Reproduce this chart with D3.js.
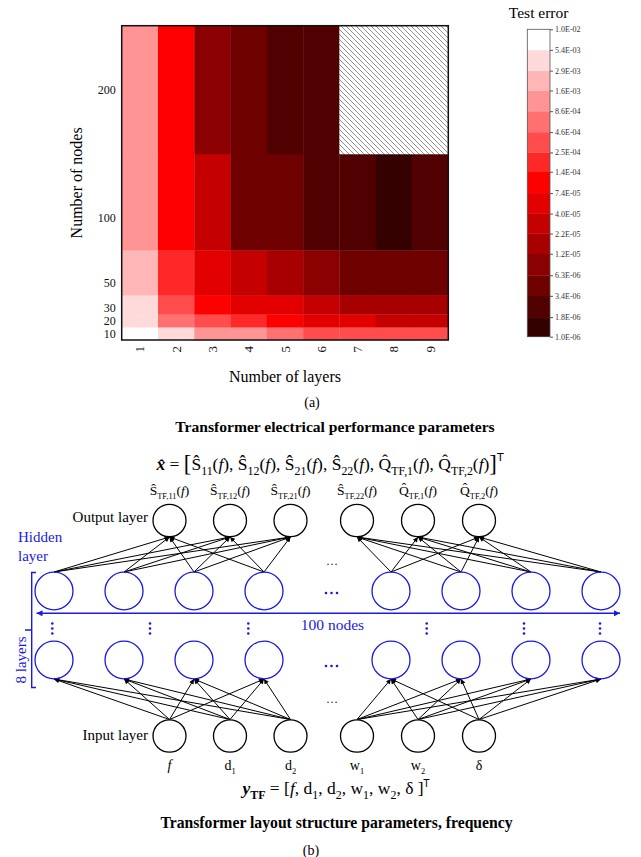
<!DOCTYPE html>
<html>
<head>
<meta charset="utf-8">
<script src="https://cdn.jsdelivr.net/npm/d3@7/dist/d3.min.js"></script>
<style>
  html, body { margin: 0; padding: 0; background: #fff; }
  svg { display: block; }
  text { font-family: "Liberation Serif", "DejaVu Serif", serif; }
</style>
</head>
<body>
<svg id="chart" width="641" height="857"></svg>
<script>
// ---------------- DATA ----------------
const layers = [1, 2, 3, 4, 5, 6, 7, 8, 9];
const nodes = [10, 20, 30, 50, 100, 200];
// test error per number of nodes (row) across layers 1..9 (null = not computed, hatched)
const err10  = [7.0e-3, 4.0e-3, 1.2e-3, 1.2e-3, 6.3e-4, 3.4e-4, 3.4e-4, 3.4e-4, 3.4e-4];
const err20  = [4.0e-3, 6.3e-4, 3.4e-4, 1.9e-4, 1.0e-4, 5.5e-5, 5.5e-5, 3.0e-5, 3.0e-5];
const err30  = [4.0e-3, 3.4e-4, 1.0e-4, 5.5e-5, 5.5e-5, 3.0e-5, 1.6e-5, 1.6e-5, 1.6e-5];
const err50  = [2.2e-3, 1.9e-4, 5.5e-5, 3.0e-5, 1.6e-5, 8.8e-6, 4.7e-6, 4.7e-6, 4.7e-6];
const err100 = [1.2e-3, 1.0e-4, 3.0e-5, 4.7e-6, 4.7e-6, 2.5e-6, 2.5e-6, 1.3e-6, 2.5e-6];
const err200 = [1.2e-3, 1.0e-4, 8.8e-6, 4.7e-6, 2.5e-6, 2.5e-6, null, null, null];
const errRows = [err10, err20, err30, err50, err100, err200];
// colour-bar level boundaries (tick labels)
const levels = [1.0e-6, 1.8e-6, 3.4e-6, 6.3e-6, 1.2e-5, 2.2e-5, 4.0e-5, 7.4e-5,
                1.4e-4, 2.5e-4, 4.6e-4, 8.6e-4, 1.6e-3, 2.9e-3, 5.4e-3, 1.0e-2];
const levelColors = ["#340000", "#510000", "#6e0000", "#8b0000", "#a80000", "#c50000", "#e20000",
                     "#ff0000", "#ff2828", "#ff4d4d", "#ff7070", "#ff9494", "#ffb6b6", "#ffdada", "#ffffff"];
// network diagram
const outSym  = ["Ŝ", "Ŝ", "Ŝ", "Ŝ", "Q̂", "Q̂"];
const outSub  = ["TF,11", "TF,12", "TF,21", "TF,22", "TF,1", "TF,2"];
const inSym   = ["f", "d", "d", "w", "w", "δ"];
const inSub   = ["", "1", "2", "1", "2", ""];
const hiddenCount = 8;

// ---------------- HELPERS ----------------
const svg = d3.select("#chart");
const BLUE = "#1a1ae6";

function rich(textSel, segs, size) {
  let off = 0;
  segs.forEach(s => {
    let target = 0, fs = size;
    if (s.sub) { target = size * 0.28; fs = size * (s.scale || 0.68); }
    if (s.sup) { target = -size * (s.supOff || 0.5); fs = size * (s.scale || 0.62); }
    if (s.big) { target = size * 0.06; fs = size * s.big; }
    const ts = textSel.append("tspan").attr("dy", (target - off).toFixed(2)).attr("font-size", fs).text(s.t);
    off = target;
    if (s.it) ts.attr("font-style", "italic");
    if (s.b) ts.attr("font-weight", "bold");
    if (s.ff) ts.attr("font-family", s.ff);
  });
  if (off !== 0) textSel.append("tspan").attr("dy", -off).text("");
}

// ---------------- (a) HEATMAP ----------------
const hm = { left: 121.7, right: 448.3, top: 25.7, bottom: 340 };
const x = d3.scaleBand().domain(layers).range([hm.left, hm.right]).padding(0);
const yEdgesLow = nodes[0] - (nodes[1] - nodes[0]) / 2;
const yEdgesHigh = nodes[nodes.length - 1] + (nodes[nodes.length - 1] - nodes[nodes.length - 2]) / 2;
const y = d3.scaleLinear().domain([yEdgesLow, yEdgesHigh]).range([hm.bottom, hm.top]);
const color = d3.scaleThreshold().domain(levels.slice(1, -1)).range(levelColors);

// row edges = midpoints between node counts
const edges = [yEdgesLow];
for (let i = 0; i < nodes.length - 1; i++) edges.push((nodes[i] + nodes[i + 1]) / 2);
edges.push(yEdgesHigh);

const defs = svg.append("defs");
const pat = defs.append("pattern").attr("id", "hatch").attr("patternUnits", "userSpaceOnUse")
  .attr("width", 5).attr("height", 5);
pat.append("rect").attr("width", 5).attr("height", 5).attr("fill", "#fff");
pat.append("path").attr("d", "M-1,-1 L6,6 M-1,4 L1,6 M4,-1 L6,1")
  .attr("stroke", "#444").attr("stroke-width", 0.6);

const cells = [];
errRows.forEach((row, ri) => row.forEach((v, ci) => cells.push({ layer: layers[ci], lo: edges[ri], hi: edges[ri + 1], v })));

const gH = svg.append("g");
gH.selectAll("rect.cell").data(cells).join("rect")
  .attr("class", "cell")
  .attr("x", d => x(d.layer))
  .attr("width", x.bandwidth() + 0.3)
  .attr("y", d => y(d.hi))
  .attr("height", d => y(d.lo) - y(d.hi) + 0.3)
  .attr("fill", d => d.v == null ? "url(#hatch)" : color(d.v));

gH.append("rect").attr("x", hm.left).attr("y", hm.top)
  .attr("width", hm.right - hm.left).attr("height", hm.bottom - hm.top)
  .attr("fill", "none").attr("stroke", "#111").attr("stroke-width", 1.5);

// y axis labels
const yAxis = d3.axisLeft(y).tickValues(nodes).tickSize(0).tickPadding(6);
const gy = gH.append("g").attr("transform", `translate(${hm.left},0)`).call(yAxis);
gy.select(".domain").remove();
gy.selectAll("text").attr("font-size", 12).attr("font-family", "Liberation Serif").attr("fill", "#111");

// x axis labels (rotated)
const xAxis = d3.axisBottom(x).tickSize(0).tickPadding(5);
const gx = gH.append("g").attr("transform", `translate(0,${hm.bottom})`).call(xAxis);
gx.select(".domain").remove();
gx.selectAll("text").attr("font-size", 13).attr("font-family", "Liberation Serif").attr("fill", "#111")
  .attr("transform", "rotate(-90)").attr("text-anchor", "end").attr("x", -6).attr("y", 0).attr("dy", "0.35em");

gH.append("text").attr("x", (hm.left + hm.right) / 2).attr("y", 382).attr("text-anchor", "middle")
  .attr("font-size", 16).text("Number of layers");
gH.append("text").attr("transform", `translate(82,${(hm.top + hm.bottom) / 2}) rotate(-90)`)
  .attr("text-anchor", "middle").attr("font-size", 16).text("Number of nodes");
gH.append("text").attr("x", 312).attr("y", 407).attr("text-anchor", "middle").attr("font-size", 14).text("(a)");

// colour bar
const cb = { left: 527.3, right: 550, top: 29.3, bottom: 336.7 };
const cy = d3.scaleLog().domain([levels[0], levels[levels.length - 1]]).range([cb.bottom, cb.top]);
const gC = svg.append("g");
const bands = d3.range(levels.length - 1).map(i => ({ lo: levels[i], hi: levels[i + 1], c: levelColors[i] }));
gC.selectAll("rect.band").data(bands).join("rect").attr("class", "band")
  .attr("x", cb.left).attr("width", cb.right - cb.left)
  .attr("y", d => cy(d.hi)).attr("height", d => cy(d.lo) - cy(d.hi) + 0.3)
  .attr("fill", d => d.c);
gC.append("rect").attr("x", cb.left).attr("y", cb.top).attr("width", cb.right - cb.left)
  .attr("height", cb.bottom - cb.top).attr("fill", "none").attr("stroke", "#555").attr("stroke-width", 0.8);
const fmtE = v => { const [m, e] = v.toExponential(1).split("e"); const n = Math.abs(+e); return m + "E" + (+e < 0 ? "-" : "+") + (n < 10 ? "0" : "") + n; };
const cAxis = d3.axisRight(cy).tickValues(levels).tickFormat(fmtE).tickSize(3).tickPadding(2);
const gca = gC.append("g").attr("transform", `translate(${cb.right},0)`).call(cAxis);
gca.select(".domain").remove();
gca.selectAll("line").attr("stroke", "#555");
gca.selectAll("text").attr("font-size", 8).attr("font-family", "Liberation Serif").attr("fill", "#333");
gC.append("text").attr("x", (cb.left + cb.right) / 2).attr("y", 18).attr("text-anchor", "middle")
  .attr("font-size", 15.5).text("Test error");

// ---------------- (b) NETWORK DIAGRAM ----------------
const gN = svg.append("g");
defs.append("marker").attr("id", "arr").attr("viewBox", "0 0 10 10").attr("refX", 10).attr("refY", 5)
  .attr("markerWidth", 7).attr("markerHeight", 5).attr("markerUnits", "userSpaceOnUse").attr("orient", "auto")
  .append("path").attr("d", "M0,0 L10,5 L0,10 z").attr("fill", "#000");
defs.append("marker").attr("id", "barr").attr("viewBox", "0 0 10 10").attr("refX", 10).attr("refY", 5)
  .attr("markerWidth", 8).attr("markerHeight", 6).attr("markerUnits", "userSpaceOnUse").attr("orient", "auto-start-reverse")
  .append("path").attr("d", "M0,0 L10,5 L0,10 z").attr("fill", BLUE);

const ioX = i => i < 3 ? 169.5 + i * 60.5 : 357 + (i - 3) * 61;
const hX = i => i < 4 ? 54 + i * 70 : 391 + (i - 4) * 70;
const outY = 520.5, hTopY = 591, hBotY = 660, inY = 736;
const ioR = 16.5, hR = 19;

// titles / formulas
gN.append("text").attr("x", 335).attr("y", 432).attr("text-anchor", "middle")
  .attr("font-size", 15.6).attr("font-weight", "bold").text("Transformer electrical performance parameters");

const f1 = gN.append("text").attr("x", 330).attr("y", 470).attr("text-anchor", "middle")
  .attr("font-family", "DejaVu Serif").attr("font-size", 17.5);
rich(f1, [
  { t: "x\u0302", b: true, it: true }, { t: " = " }, { t: "[", big: 1.3 },
  { t: "Ŝ" }, { t: "11", sub: true }, { t: "(" }, { t: "f", it: true }, { t: "), " },
  { t: "Ŝ" }, { t: "12", sub: true }, { t: "(" }, { t: "f", it: true }, { t: "), " },
  { t: "Ŝ" }, { t: "21", sub: true }, { t: "(" }, { t: "f", it: true }, { t: "), " },
  { t: "Ŝ" }, { t: "22", sub: true }, { t: "(" }, { t: "f", it: true }, { t: "), " },
  { t: "Q̂" }, { t: "TF,1", sub: true }, { t: "(" }, { t: "f", it: true }, { t: "), " },
  { t: "Q̂" }, { t: "TF,2", sub: true }, { t: "(" }, { t: "f", it: true }, { t: ")" },
  { t: "]", big: 1.3 }, { t: "T", sup: true, ff: "DejaVu Sans" }
], 17.5);

// output labels
outSym.forEach((s, i) => {
  const t = gN.append("text").attr("x", ioX(i)).attr("y", 495).attr("text-anchor", "middle")
    .attr("font-family", "DejaVu Serif").attr("font-size", 13.5);
  rich(t, [{ t: s }, { t: outSub[i], sub: true, scale: 0.62 }, { t: "(" }, { t: "f", it: true }, { t: ")" }], 13.5);
});

// edges: hidden(top row) -> outputs, inputs -> hidden(bottom row)
const edgesOut = [], edgesIn = [];
for (let h = 0; h < hiddenCount; h++) for (let o = 0; o < 6; o++) {
  if ((h < 4) === (o < 3)) edgesOut.push({ h, o });
}
for (let n = 0; n < 6; n++) for (let h = 0; h < hiddenCount; h++) {
  if ((h < 4) === (n < 3)) edgesIn.push({ n, h });
}
gN.selectAll("line.eo").data(edgesOut).join("line").attr("class", "eo")
  .attr("x1", d => hX(d.h)).attr("y1", hTopY - hR)
  .attr("x2", d => ioX(d.o)).attr("y2", outY + ioR)
  .attr("stroke", "#000").attr("stroke-width", 1).attr("marker-end", "url(#arr)");
gN.selectAll("line.ei").data(edgesIn).join("line").attr("class", "ei")
  .attr("x1", d => ioX(d.n)).attr("y1", inY - ioR)
  .attr("x2", d => hX(d.h)).attr("y2", hBotY + hR)
  .attr("stroke", "#000").attr("stroke-width", 1).attr("marker-end", "url(#arr)");

// nodes
const io = d3.range(6);
gN.selectAll("ellipse.out").data(io).join("ellipse").attr("class", "out")
  .attr("cx", ioX).attr("cy", outY).attr("rx", ioR).attr("ry", ioR - 0.3)
  .attr("fill", "#fff").attr("stroke", "#000").attr("stroke-width", 1.3);
gN.selectAll("ellipse.inp").data(io).join("ellipse").attr("class", "inp")
  .attr("cx", ioX).attr("cy", inY).attr("rx", ioR).attr("ry", ioR - 0.3)
  .attr("fill", "#fff").attr("stroke", "#000").attr("stroke-width", 1.3);
const hid = d3.range(hiddenCount);
[hTopY, hBotY].forEach((yy, k) => {
  gN.selectAll("ellipse.h" + k).data(hid).join("ellipse").attr("class", "h" + k)
    .attr("cx", hX).attr("cy", yy).attr("rx", hR).attr("ry", hR - 0.2)
    .attr("fill", "none").attr("stroke", BLUE).attr("stroke-width", 1.3);
});

// layer labels
gN.append("text").attr("x", 148).attr("y", 522).attr("text-anchor", "end").attr("font-size", 15).text("Output layer");
gN.append("text").attr("x", 148).attr("y", 740).attr("text-anchor", "end").attr("font-size", 15).text("Input layer");
gN.append("text").attr("x", 18).attr("y", 542).attr("font-size", 15).attr("fill", BLUE).text("Hidden");
gN.append("text").attr("x", 18).attr("y", 561).attr("font-size", 15).attr("fill", BLUE).text("layer");
gN.append("text").attr("transform", "translate(26,660) rotate(-90)").attr("text-anchor", "middle")
  .attr("font-size", 15).attr("fill", BLUE).text("8 layers");

// bracket
gN.append("path").attr("d", "M36,572.5 H31.7 V687.5 H36 M31.7,630 H25")
  .attr("fill", "none").attr("stroke", BLUE).attr("stroke-width", 1.4);

// 100 nodes arrow
gN.append("line").attr("x1", 36.5).attr("x2", 620).attr("y1", 613.3).attr("y2", 613.3)
  .attr("stroke", BLUE).attr("stroke-width", 1.5)
  .attr("marker-start", "url(#barr)").attr("marker-end", "url(#barr)");
gN.append("text").attr("x", 332.5).attr("y", 630).attr("text-anchor", "middle")
  .attr("font-size", 15.5).attr("fill", BLUE).text("100 nodes");

// vertical dots
const vdX = [52.3, 150, 248.3, 426.7, 524, 600];
vdX.forEach(vx => [623.5, 628.5, 633.5].forEach(vy =>
  gN.append("circle").attr("cx", vx).attr("cy", vy).attr("r", 1.3).attr("fill", BLUE)));
// horizontal blue dots
[593, 666].forEach(hy => [326, 331.5, 337].forEach(hx =>
  gN.append("circle").attr("cx", hx).attr("cy", hy).attr("r", 1.3).attr("fill", BLUE)));
// black small ellipses
[562, 700].forEach(hy => gN.append("text").attr("x", 332).attr("y", hy + 3).attr("text-anchor", "middle")
  .attr("font-size", 12).attr("fill", "#222").text("…"));

// input labels
inSym.forEach((s, i) => {
  const t = gN.append("text").attr("x", ioX(i)).attr("y", 770).attr("text-anchor", "middle").attr("font-size", 14);
  const segs = [{ t: s, it: s === "f" }];
  if (inSub[i]) segs.push({ t: inSub[i], sub: true, scale: 0.6 });
  rich(t, segs, 14);
});

const f2 = gN.append("text").attr("x", 336).attr("y", 794).attr("text-anchor", "middle")
  .attr("font-family", "DejaVu Serif").attr("font-size", 17.5);
rich(f2, [
  { t: "y", b: true, it: true }, { t: "TF", sub: true, b: true }, { t: " = [" },
  { t: "f", it: true }, { t: ", d" }, { t: "1", sub: true }, { t: ", d" }, { t: "2", sub: true },
  { t: ", w" }, { t: "1", sub: true }, { t: ", w" }, { t: "2", sub: true }, { t: ", δ ]" },
  { t: "T", sup: true, supOff: 0.38, scale: 0.55, ff: "DejaVu Sans" }
], 17.5);

gN.append("text").attr("x", 336.5).attr("y", 828).attr("text-anchor", "middle")
  .attr("font-size", 15.7).attr("font-weight", "bold").text("Transformer layout structure parameters, frequency");
gN.append("text").attr("x", 311).attr("y", 855).attr("text-anchor", "middle").attr("font-size", 14).text("(b)");
</script>
</body>
</html>
